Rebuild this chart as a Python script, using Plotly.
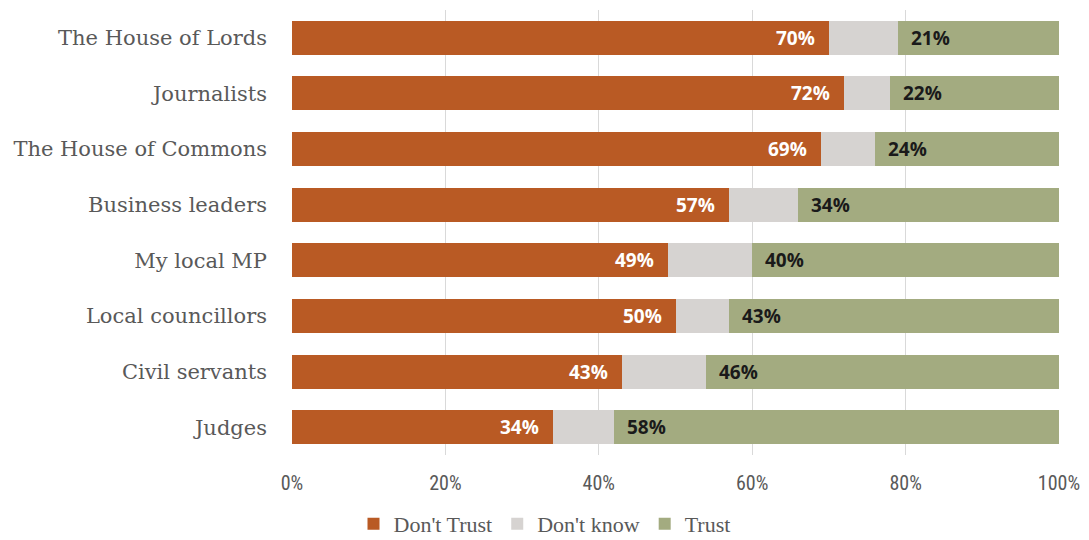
import plotly.graph_objects as go

# Institutions, bottom to top as drawn on the category axis
categories = ["Judges", "Civil servants", "Local councillors", "My local MP",
              "Business leaders", "The House of Commons", "Journalists",
              "The House of Lords"]
dont_trust = [34, 43, 50, 49, 57, 69, 72, 70]
dont_know = [8, 11, 7, 11, 9, 7, 6, 9]
trust = [58, 46, 43, 40, 34, 24, 22, 21]

tick_vals = [0, 20, 40, 60, 80, 100]
tick_text = ["0%", "20%", "40%", "60%", "80%", "100%"]

ORANGE = "#B95A24"
GREY = "#D6D3D1"
GREEN = "#A3AB80"
AXIS_GREY = "#595959"

label_font = dict(family="Open Sans", size=19)

fig = go.Figure()
fig.add_trace(go.Bar(
    y=categories, x=dont_trust, name="Don't Trust", orientation="h",
    marker=dict(color=ORANGE, line=dict(width=0)), hoverinfo="skip",
))
fig.add_trace(go.Bar(
    y=categories, x=dont_know, name="Don't know", orientation="h",
    marker=dict(color=GREY, line=dict(width=0)), hoverinfo="skip",
))
fig.add_trace(go.Bar(
    y=categories, x=trust, name="Trust", orientation="h",
    marker=dict(color=GREEN, line=dict(width=0)), hoverinfo="skip",
))

# Value labels: "Don't Trust" at the inner end of its segment,
# "Trust" at the start of its segment
for cat, dt, dk, tr in zip(categories, dont_trust, dont_know, trust):
    fig.add_annotation(
        x=dt, y=cat, xref="x", yref="y", text=f"<b>{dt}%</b>",
        xanchor="right", xshift=-12, showarrow=False,
        font=dict(color="white", **label_font),
    )
    fig.add_annotation(
        x=dt + dk, y=cat, xref="x", yref="y", text=f"<b>{tr}%</b>",
        xanchor="left", xshift=11, showarrow=False,
        font=dict(color="#1a1a1a", **label_font),
    )

fig.update_layout(
    barmode="stack",
    bargap=0.39,
    width=1089, height=540,
    margin=dict(l=292, r=30, t=10, b=85, autoexpand=False),
    plot_bgcolor="white", paper_bgcolor="white",
    showlegend=True,
    legend=dict(
        orientation="h", xref="container", x=0.5, xanchor="center",
        yref="paper", y=-0.155, yanchor="middle",
        font=dict(family="Liberation Serif", size=22, color=AXIS_GREY),
        traceorder="normal",
    ),
    xaxis=dict(
        range=[0, 100], tickvals=tick_vals, ticktext=tick_text,
        showgrid=True, gridcolor="#D9D9D9", gridwidth=1,
        zeroline=False, showline=False,
        tickfont=dict(family="Liberation Sans Narrow, Roboto Condensed, Liberation Sans",
                      size=20, color=AXIS_GREY),
        ticks="", ticklabelstandoff=14,
        fixedrange=True, automargin=False,
    ),
    yaxis=dict(
        categoryorder="array", categoryarray=categories,
        tickfont=dict(family="DejaVu Serif", size=21, color=AXIS_GREY),
        ticks="", showgrid=False, ticklabelstandoff=24,
        fixedrange=True, automargin=False,
    ),
)

fig.write_html("out.html")
